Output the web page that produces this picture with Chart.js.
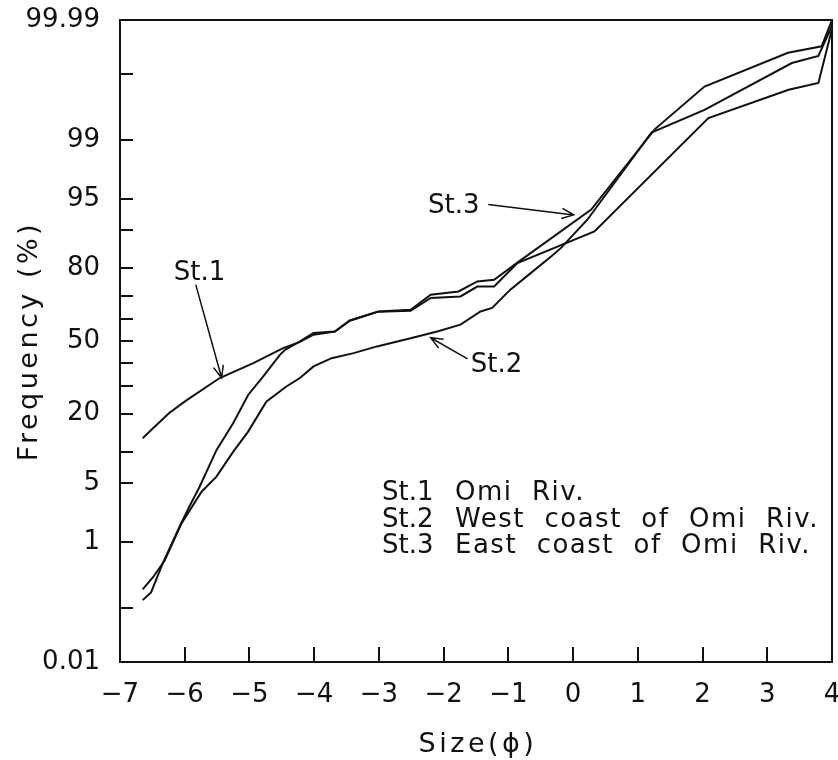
<!DOCTYPE html>
<html>
<head>
<meta charset="utf-8">
<script src="https://cdn.jsdelivr.net/npm/chart.js@4.4.1/dist/chart.umd.min.js"></script>
<style>
  html, body { margin: 0; padding: 0; background: #fff; }
  #wrap { width: 838px; height: 760px; }
</style>
</head>
<body>
<div id="wrap"><canvas id="chart" width="838" height="760"></canvas></div>
<script>
// 粒径 (phi) と累積頻度 (%) - 確率紙プロット

// St.1 Omi Riv.
const st1Size = [-6.65, -6.49, -6.24, -5.98, -5.46, -4.94, -4.48, -4.22, -4.01, -3.68, -3.45, -3.01, -2.51, -2.20, -1.74, -1.48, -1.22, -0.86, 0.33, 2.09, 3.33, 3.79, 4.0];
const st1Freq = [13.0, 15.6, 20.2, 24.5, 33.4, 39.9, 46.7, 49.6, 52.9, 54.4, 59.3, 63.3, 63.7, 69.1, 69.7, 73.6, 73.6, 81.7, 89.8, 99.51, 99.82, 99.86, 99.985];

// St.2 West coast of Omi Riv.
const st2Size = [-6.65, -6.49, -6.31, -6.05, -5.74, -5.51, -5.25, -5.02, -4.74, -4.43, -4.22, -4.01, -3.73, -3.39, -3.03, -2.51, -2.10, -1.74, -1.43, -1.25, -0.97, -0.65, -0.34, -0.19, 0.22, 1.21, 2.03, 3.38, 3.79, 4.0];
const st2Freq = [0.20, 0.31, 0.55, 1.73, 4.04, 5.80, 10.0, 14.7, 24.1, 29.9, 33.4, 38.4, 42.1, 44.4, 47.5, 51.3, 54.4, 57.5, 63.4, 64.9, 72.4, 78.5, 83.6, 85.9, 92.0, 99.21, 99.63, 99.936, 99.952, 99.987];

// St.3 East coast of Omi Riv.
const st3Size = [-6.65, -6.52, -6.34, -6.08, -5.93, -5.77, -5.51, -5.25, -5.02, -4.79, -4.53, -4.45, -4.22, -4.01, -3.68, -3.45, -3.01, -2.51, -2.20, -1.77, -1.48, -1.22, -0.84, 0.28, 1.26, 2.03, 3.32, 3.84, 4.0];
const st3Freq = [0.134, 0.179, 0.50, 1.57, 2.74, 4.57, 10.3, 17.1, 26.6, 34.0, 43.6, 45.9, 49.8, 53.7, 54.4, 59.4, 63.4, 64.1, 70.4, 71.7, 75.5, 76.1, 82.1, 93.6, 99.29, 99.84, 99.958, 99.968, 99.99];

// 軸目盛
const xTicks = [-7, -6, -5, -4, -3, -2, -1, 0, 1, 2, 3, 4];
const yTicks = [0.01, 0.1, 1, 5, 10, 20, 30, 40, 50, 60, 70, 80, 90, 95, 99, 99.9, 99.99];
const yLabeled = [0.01, 1, 5, 20, 50, 80, 95, 99, 99.99];

// 凡例テキスト
const legendKeys = ["St.1", "St.2", "St.3"];
const legendNames = ["Omi  Riv.", "West  coast  of  Omi  Riv.", "East  coast  of  Omi  Riv."];

const FONT = '"DejaVu Sans", sans-serif';
const INK = "#111";

// 標準正規分布の逆関数（確率紙の縦軸用）
function probit(p) {
  const a = [-3.969683028665376e+01, 2.209460984245205e+02, -2.759285104469687e+02, 1.383577518672690e+02, -3.066479806614716e+01, 2.506628277459239e+00];
  const b = [-5.447609879822406e+01, 1.615858368580409e+02, -1.556989798598866e+02, 6.680131188771972e+01, -1.328068155288572e+01];
  const c = [-7.784894002430293e-03, -3.223964580411365e-01, -2.400758277161838e+00, -2.549732539343734e+00, 4.374664141464968e+00, 2.938163982698783e+00];
  const d = [7.784695709041462e-03, 3.224671290700398e-01, 2.445134137142996e+00, 3.754408661907416e+00];
  const pl = 0.02425;
  let q, r;
  if (p < pl) {
    q = Math.sqrt(-2 * Math.log(p));
    return (((((c[0]*q+c[1])*q+c[2])*q+c[3])*q+c[4])*q+c[5]) / ((((d[0]*q+d[1])*q+d[2])*q+d[3])*q+1);
  }
  if (p > 1 - pl) {
    q = Math.sqrt(-2 * Math.log(1 - p));
    return -(((((c[0]*q+c[1])*q+c[2])*q+c[3])*q+c[4])*q+c[5]) / ((((d[0]*q+d[1])*q+d[2])*q+d[3])*q+1);
  }
  q = p - 0.5;
  r = q * q;
  return (((((a[0]*r+a[1])*r+a[2])*r+a[3])*r+a[4])*r+a[5])*q / (((((b[0]*r+b[1])*r+b[2])*r+b[3])*r+b[4])*r+1);
}
const toZ = (pct) => probit(pct / 100);

function series(sizes, freqs) {
  return sizes.map((s, i) => ({ x: s, y: toZ(freqs[i]) }));
}

function lineSet(label, sizes, freqs) {
  return {
    label: label,
    data: series(sizes, freqs),
    showLine: true,
    pointRadius: 0,
    borderColor: INK,
    borderWidth: 2,
    tension: 0,
    fill: false,
  };
}

// 注記（矢印の位置は軸の値で指定）
const notes = [
  { text: "St.1", tx: -6.17, ty: 76.1, from: [-5.83, 74.3], to: [-5.43, 33.5] },
  { text: "St.3", tx: -2.24, ty: 93.15, from: [-1.31, 94.3], to: [0.01, 92.8] },
  { text: "St.2", tx: -1.58, ty: 36.1, from: [-1.63, 41.8], to: [-2.20, 51.5] },
];

function arrow(ctx, x1, y1, x2, y2) {
  ctx.beginPath();
  ctx.moveTo(x1, y1);
  ctx.lineTo(x2, y2);
  const ang = Math.atan2(y2 - y1, x2 - x1);
  const len = 13, spread = 0.4;
  ctx.moveTo(x2 - len * Math.cos(ang - spread), y2 - len * Math.sin(ang - spread));
  ctx.lineTo(x2, y2);
  ctx.lineTo(x2 - len * Math.cos(ang + spread), y2 - len * Math.sin(ang + spread));
  ctx.stroke();
}

const overlay = {
  id: "overlay",
  afterDraw(chart) {
    const ctx = chart.ctx;
    const area = chart.chartArea;
    const xs = chart.scales.x;
    const ys = chart.scales.y;
    ctx.save();
    ctx.strokeStyle = INK;
    ctx.fillStyle = INK;

    // 上と右の枠
    ctx.lineWidth = 2;
    ctx.beginPath();
    ctx.moveTo(area.left, area.top);
    ctx.lineTo(area.right, area.top);
    ctx.lineTo(area.right, area.bottom);
    ctx.stroke();

    // 内向きの目盛
    ctx.lineWidth = 2;
    ctx.beginPath();
    yTicks.forEach((v) => {
      if (v === yTicks[0] || v === yTicks[yTicks.length - 1]) return;
      const py = Math.round(ys.getPixelForValue(toZ(v)));
      ctx.moveTo(area.left, py);
      ctx.lineTo(area.left + 13, py);
    });
    xTicks.forEach((v) => {
      if (v === xTicks[0] || v === xTicks[xTicks.length - 1]) return;
      const px = Math.round(xs.getPixelForValue(v));
      ctx.moveTo(px, area.bottom);
      ctx.lineTo(px, area.bottom - 15);
    });
    ctx.stroke();

    // 注記と矢印
    ctx.font = "26px " + FONT;
    ctx.textBaseline = "alphabetic";
    ctx.textAlign = "left";
    ctx.lineWidth = 1.5;
    notes.forEach((n) => {
      ctx.fillText(n.text, xs.getPixelForValue(n.tx), ys.getPixelForValue(toZ(n.ty)));
      arrow(ctx,
        xs.getPixelForValue(n.from[0]), ys.getPixelForValue(toZ(n.from[1])),
        xs.getPixelForValue(n.to[0]), ys.getPixelForValue(toZ(n.to[1])));
    });

    // 凡例
    const lx = area.left + 262;
    const nx = area.left + 335;
    legendKeys.forEach((k, i) => {
      const by = area.top + 480 + i * 26.5;
      ctx.letterSpacing = "0px";
      ctx.fillText(k, lx, by);
      ctx.letterSpacing = "1.5px";
      ctx.fillText(legendNames[i], nx, by);
    });

    // 軸タイトル
    ctx.font = "27px " + FONT;
    ctx.letterSpacing = "3.5px";
    ctx.textAlign = "center";
    ctx.textBaseline = "middle";
    ctx.fillText("Size(\u03d5)", (area.left + area.right) / 2 + 2, 745);
    ctx.translate(30, (area.top + area.bottom) / 2);
    ctx.rotate(-Math.PI / 2);
    ctx.fillText("Frequency (%)", 0, 0);
    ctx.restore();
  },
};

const data = {
  datasets: [
    lineSet("St.1", st1Size, st1Freq),
    lineSet("St.2", st2Size, st2Freq),
    lineSet("St.3", st3Size, st3Freq),
  ],
};

const options = {
  responsive: false,
  animation: false,
  devicePixelRatio: 1,
  layout: { padding: { top: 20, right: 6, left: 0, bottom: 0 } },
  plugins: {
    legend: { display: false },
    tooltip: { enabled: false },
  },
  scales: {
    x: {
      type: "linear",
      min: -7,
      max: 4,
      afterBuildTicks: (axis) => { axis.ticks = xTicks.map((v) => ({ value: v })); },
      afterFit: (axis) => {
        axis.height = 98;
        axis.paddingLeft = 0;
        axis.paddingRight = 0;
      },
      grid: { display: false },
      border: { display: true, color: INK, width: 2 },
      ticks: {
        color: INK,
        font: { size: 26, family: FONT },
        padding: 10,
        maxRotation: 0,
        autoSkip: false,
        callback: (v) => (v < 0 ? "\u2212" + Math.abs(v) : String(v)),
      },
    },
    y: {
      type: "linear",
      min: toZ(0.01),
      max: toZ(99.99),
      afterBuildTicks: (axis) => { axis.ticks = yTicks.map((v) => ({ value: toZ(v) })); },
      afterFit: (axis) => {
        axis.width = 120;
        axis.paddingTop = 0;
        axis.paddingBottom = 0;
      },
      grid: { display: false },
      border: { display: true, color: INK, width: 2 },
      ticks: {
        color: INK,
        font: { size: 26, family: FONT },
        padding: 12,
        autoSkip: false,
        callback: (v, i) => (yLabeled.includes(yTicks[i]) ? String(yTicks[i]) : ""),
      },
    },
  },
};

new Chart(document.getElementById("chart"), {
  type: "scatter",
  data: data,
  options: options,
  plugins: [overlay],
});
</script>
</body>
</html>
